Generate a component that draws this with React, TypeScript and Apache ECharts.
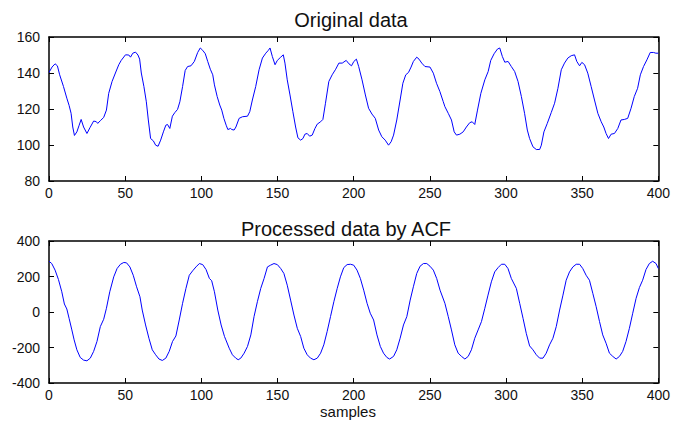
import React, { useEffect, useRef } from "react";
import * as echarts from "echarts";

const xTicks = [0, 50, 100, 150, 200, 250, 300, 350, 400];
const topYTicks = [80, 100, 120, 140, 160];
const botYTicks = [-400, -200, 0, 200, 400];

const topTitle = "Original data";
const botTitle = "Processed data by ACF";
const xLabel = "samples";

const origSamples = [
  0, 2, 4, 5.5, 7, 9.5, 11.7, 13.2, 14.5, 15.6, 16.7, 18.3, 19.8, 21.1, 22.7, 24.9, 27, 29.3, 31, 32, 33.7, 35.9,
  37.7, 39.2, 41.4, 43.6, 45.8, 47.4, 50.2, 52.4, 53.5, 55, 56.8, 58.4, 59.5, 60.6, 62.3, 63.9, 65.2, 66.7, 68.5,
  70, 71.6, 73.3, 75.1, 76.7, 77.8, 79.3, 81, 82.6, 84.4, 85.9, 87.7, 89.4, 91, 93.2, 95.4, 97.6, 99.3, 100.9,
  102.6, 104.2, 105.9, 107.5, 108.6, 110.4, 112.1, 113.4, 114.8, 116.3, 117.4, 119.2, 120, 121.5, 122.7, 124.8,
  127, 130.3, 131.8, 133.5, 135.7, 137.9, 140.1, 142.3, 144, 145.1, 146.6, 148.4, 149.9, 152.1, 153.8, 154.9,
  156.4, 158.2, 160.1, 161.9, 163.4, 165.2, 166.7, 168, 169.5, 171.1, 172.8, 174.6, 176.1, 178.3, 179.8, 181.5,
  183.7, 185.9, 188.2, 190.3, 192.5, 195.1, 196.9, 198.6, 200.1, 201.8, 203.3, 205.5, 207.7, 209.8, 212, 214.2,
  216.4, 218.5, 220.7, 222.9, 224.6, 226.2, 228.3, 230.5, 232.3, 234.2, 236, 237.7, 239.2, 241.4, 242.9, 244.7,
  246.8, 250.1, 252.3, 254.4, 256.6, 258.8, 259.9, 262.1, 264.2, 266, 267.5, 269.7, 271.9, 274, 276.2, 277.8,
  279.5, 281.3, 283.5, 286.1, 288.3, 290, 292.2, 294.4, 295.9, 297.6, 299.2, 301.4, 303.5, 305.7, 307.9, 310.1,
  312.2, 314, 315.5, 317.7, 319.9, 322.1, 323.2, 324.9, 327.1, 329.7, 331.9, 334.1, 336.3, 338.4, 340.6, 342.8,
  345, 346.5, 348.3, 349.8, 351.6, 353.7, 355.9, 358.1, 360.3, 362.5, 364.2, 365.7, 367.3, 369, 371.2, 373.4,
  375.5, 377.7, 379.9, 382.1, 384.2, 386.4, 388.2, 390.3, 392.5, 394.7, 396.9, 398.4, 400,
];
const origValues = [
  140.3, 143.3, 145.1, 144, 139, 132.5, 126, 122, 117.6, 110, 105.3, 107.3, 111, 114.2, 110, 106.4, 109.8, 113.3,
  113, 112, 113.5, 115.3, 119.4, 128.7, 135.3, 140, 144.6, 147, 150.1, 150, 148.8, 151, 151.6, 150, 147.7, 140,
  132.5, 124, 113.9, 103.6, 102.3, 99.9, 99.3, 102.7, 107.3, 111, 111.4, 109.2, 116, 118, 119.8, 124, 132.5, 141.4,
  143.6, 144, 146.4, 151.4, 153.9, 152.6, 150.7, 146.4, 142.1, 139, 133.4, 126.9, 122.2, 119.4, 114.8, 111, 108.6,
  109.2, 108.6, 108.3, 110, 114.8, 115.7, 116, 118.5, 125, 132.5, 141.8, 148.3, 151, 152.6, 153.9, 149.2, 144.6,
  147, 148.8, 150.1, 145.5, 136.2, 127.8, 118.5, 110, 104, 102.7, 103.6, 106, 106.4, 104.9, 105.5, 109.2, 111.6,
  112.9, 114.2, 123.2, 135.3, 139, 142.1, 145.5, 145.5, 147, 145.1, 144, 146.4, 147.7, 143.6, 136.2, 127.8, 120.4,
  117.2, 114.8, 108.3, 104.6, 102.7, 99.9, 101.8, 105.5, 113.9, 125, 134.3, 139, 140.3, 143.3, 146.4, 148.8, 147.7,
  145.5, 143.6, 143.3, 139.9, 134.3, 129.7, 124.1, 121.3, 117.6, 113.9, 107.3, 105.5, 106, 107.3, 110, 112.4, 112.9,
  111.4, 119.4, 128.7, 136.2, 140.8, 147, 150.7, 153.3, 153.9, 149.2, 146, 146.4, 143.6, 140.8, 135.3, 126.9, 117.6,
  108.3, 103.6, 99, 97.5, 97.5, 99.9, 107.3, 112, 118, 123.2, 131.5, 141.8, 145.5, 148.3, 149.6, 150.1, 146.4, 144,
  145.9, 144.6, 139.9, 132.5, 125, 117.6, 112.9, 110, 106.4, 103.6, 106, 106.4, 109.2, 113.9, 114.2, 114.8, 120.4,
  126.9, 131.5, 139, 143.6, 147.3, 151.4, 151.4, 151, 151,
];

const acfSamples = [
  0, 1.8, 4, 6.2, 8.4, 10.1, 11.7, 13.2, 15, 16.5, 18.3, 20.5, 22.7, 24.9, 27.1, 29.3, 31.5, 33.7, 35.9, 37.7, 39.9,
  42.5, 44.7, 46.9, 49.1, 50.9, 53.1, 55.3, 57.5, 59.7, 61.2, 63.4, 65.6, 67.8, 70, 72.2, 74.4, 76.7, 78.9, 81.1,
  83.3, 85.5, 87.7, 89.9, 92.1, 94.3, 96.5, 98.7, 100.9, 103.1, 105.3, 106.8, 108.6, 110.8, 113, 115.2, 116.1, 118.3,
  120.4, 122.6, 124.2, 125.9, 128.1, 130.3, 132.5, 134.6, 136.8, 139, 141.2, 143.4, 145.5, 147.7, 149.9, 152.1,
  154.2, 156.4, 158.6, 160.8, 163, 165.2, 167.3, 169.5, 171.7, 173.9, 176.1, 178.3, 180.4, 182.6, 184.8, 187, 189.2,
  191.3, 193.5, 195.7, 197.9, 200, 202.2, 204.4, 206.6, 208.8, 210.9, 213.1, 215.3, 217.5, 219.6, 221.8, 223.6,
  226.2, 228.3, 230.5, 232.7, 234.9, 237.1, 239.2, 241.4, 243.6, 245.8, 248, 250.1, 252.3, 254.5, 256.7, 259.9,
  262.1, 264.2, 266.4, 268.6, 270.8, 273, 275.2, 277.3, 279.5, 281.7, 283.9, 286.1, 288.2, 290.4, 292.6, 294.8, 297,
  299.2, 301.3, 303.5, 306.8, 309, 311.2, 313.3, 315.5, 317.7, 319.9, 322.1, 324.3, 326.4, 328.6, 330.8, 333, 335.2,
  337.4, 339.5, 341.7, 343.9, 346.1, 348.3, 350.4, 352.6, 354.8, 357, 359.2, 361.4, 363.5, 365.7, 367.9, 370.1,
  372.3, 374.5, 376.6, 378.8, 381, 383.2, 385.4, 387.6, 389.7, 391.9, 394.1, 396.3, 398.5, 400,
];
const acfValues = [
  286, 273, 236, 183, 114, 45, 17, -36, -101, -157, -213, -256, -271, -275, -260, -222, -166, -82, -41, 21, 114, 198,
  245, 269, 279, 277, 254, 207, 142, 86, 11, -73, -148, -213, -241, -265, -273, -260, -222, -166, -135, -45, 49, 133,
  207, 232, 254, 273, 267, 239, 189, 176, 114, 11, -73, -138, -157, -204, -241, -260, -269, -260, -232, -194, -129,
  -26, 58, 133, 189, 254, 264, 273, 267, 245, 217, 151, 67, -17, -92, -138, -204, -241, -260, -269, -260, -232, -185,
  -110, -26, 58, 133, 198, 250, 267, 269, 264, 236, 189, 123, 49, -7, -45, -129, -194, -232, -256, -265, -250, -213,
  -148, -73, -26, 67, 142, 217, 258, 273, 273, 258, 236, 189, 123, 49, -26, -101, -185, -232, -250, -265, -250, -213,
  -148, -101, -54, 21, 95, 170, 226, 250, 269, 269, 245, 189, 133, 49, -36, -120, -191, -213, -241, -260, -260, -232,
  -185, -148, -82, 11, 95, 179, 226, 254, 269, 269, 245, 207, 179, 105, 30, -54, -129, -176, -232, -250, -265, -250,
  -222, -166, -92, -7, 77, 138, 179, 239, 273, 286, 273, 245,
];

const FONT = "Liberation Sans, Arial, sans-serif";

function pairs(xs: number[], ys: number[]) {
  return xs.map((x, i) => [x, ys[i]]);
}

export default function App() {
  const ref = useRef<HTMLDivElement>(null);
  useEffect(() => {
    if (!ref.current) return;
    document.body.style.margin = "0";
    const chart = echarts.init(ref.current, undefined, { renderer: "svg" });
    const axisLine = { show: true, onZero: false, lineStyle: { color: "#000", width: 1.5 } };
    const tick = { show: true, inside: true, length: 5, lineStyle: { color: "#000", width: 1 } };
    const lbl = { color: "#111", fontSize: 14, fontFamily: FONT };
    const xBottom = (gi: number) => ({
      type: "value", gridIndex: gi, min: xTicks[0], max: xTicks[xTicks.length - 1], interval: xTicks[1] - xTicks[0],
      position: "bottom", axisLine, axisTick: tick, splitLine: { show: false },
      axisLabel: { ...lbl, margin: 5, showMaxLabel: true },
    });
    const xTop = (gi: number) => ({
      type: "value", gridIndex: gi, min: xTicks[0], max: xTicks[xTicks.length - 1], interval: xTicks[1] - xTicks[0],
      position: "top", axisLine, axisTick: tick, splitLine: { show: false }, axisLabel: { show: false },
    });
    const yLeft = (gi: number, ticks: number[]) => ({
      type: "value", gridIndex: gi, min: ticks[0], max: ticks[ticks.length - 1],
      interval: ticks[1] - ticks[0], position: "left",
      axisLine, axisTick: tick, splitLine: { show: false }, axisLabel: { ...lbl, margin: 9 },
    });
    const yRight = (gi: number, ticks: number[]) => ({
      type: "value", gridIndex: gi, min: ticks[0], max: ticks[ticks.length - 1],
      interval: ticks[1] - ticks[0], position: "right",
      axisLine, axisTick: tick, splitLine: { show: false }, axisLabel: { show: false },
    });
    chart.setOption({
      animation: false,
      backgroundColor: "#fff",
      grid: [
        { left: 49, right: 11, top: 37, height: 144 },
        { left: 49, right: 11, top: 241, height: 142 },
      ],
      xAxis: [xBottom(0), xTop(0), xBottom(1), xTop(1)],
      yAxis: [yLeft(0, topYTicks), yRight(0, topYTicks), yLeft(1, botYTicks), yRight(1, botYTicks)],
      series: [
        {
          type: "line", xAxisIndex: 0, yAxisIndex: 0, data: pairs(origSamples, origValues),
          showSymbol: false, lineStyle: { color: "#0000ff", width: 1 }, silent: true,
        },
        {
          type: "line", xAxisIndex: 2, yAxisIndex: 2, data: pairs(acfSamples, acfValues),
          showSymbol: false, lineStyle: { color: "#0000ff", width: 1 }, silent: true,
        },
      ],
      graphic: [
        { type: "text", x: 351, y: 20, style: { text: topTitle, fontSize: 20, fontFamily: FONT, fill: "#111", textAlign: "center", textVerticalAlign: "middle" } },
        { type: "text", x: 346, y: 229, style: { text: botTitle, fontSize: 20, fontFamily: FONT, fill: "#111", textAlign: "center", textVerticalAlign: "middle" } },
        { type: "text", x: 348, y: 411, style: { text: xLabel, fontSize: 15, fontFamily: FONT, fill: "#111", textAlign: "center", textVerticalAlign: "middle" } },
      ],
    });
    return () => chart.dispose();
  }, []);
  return <div ref={ref} style={{ width: 673, height: 421 }} />;
}
